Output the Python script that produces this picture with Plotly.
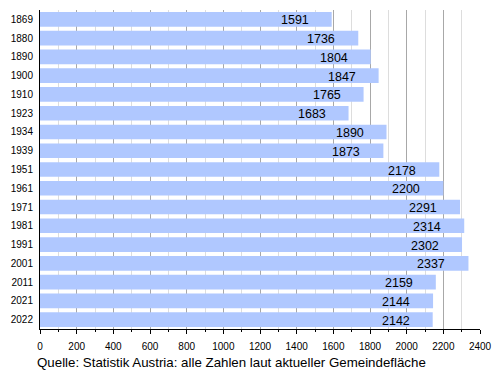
import plotly.graph_objects as go

years = ["1869", "1880", "1890", "1900", "1910", "1923", "1934", "1939", "1951",
         "1961", "1971", "1981", "1991", "2001", "2011", "2021", "2022"]
population = [1591, 1736, 1804, 1847, 1765, 1683, 1890, 1873, 2178,
              2200, 2291, 2314, 2302, 2337, 2159, 2144, 2142]
x_ticks = list(range(0, 2401, 200))
caption = "Quelle: Statistik Austria: alle Zahlen laut aktueller Gemeindefläche"

FONT = "Liberation Sans, Arial, sans-serif"
positions = list(range(len(years)))

fig = go.Figure()
fig.add_trace(go.Bar(
    y=positions, x=population, orientation="h",
    marker=dict(color="#b0c8ff", line=dict(width=0)),
    width=0.78, hovertext=years, hoverinfo="x+text",
))

for pos, v in zip(positions, population):
    fig.add_annotation(x=v, y=pos, text=str(v), showarrow=False,
                       xanchor="right", xshift=-21, yshift=-1,
                       font=dict(family=FONT, size=12.5, color="#000"))

fig.add_annotation(xref="paper", yref="paper",
                   x=(35 - 40) / 440, y=-(363 - 329) / 319, text=caption,
                   showarrow=False, xanchor="left", yanchor="middle",
                   font=dict(family=FONT, size=13.3, color="#000"))

fig.update_layout(
    width=500, height=370,
    margin=dict(l=40, r=20, t=10, b=41, autoexpand=False),
    plot_bgcolor="white", paper_bgcolor="white",
    showlegend=False,
    font=dict(family=FONT, size=10, color="#000"),
    xaxis=dict(range=[0, 2400], tickvals=x_ticks, ticktext=[str(t) for t in x_ticks],
               showgrid=True, gridcolor="#a8a8a8", gridwidth=1,
               ticks="outside", ticklen=4, tickcolor="#000",
               ticklabelstandoff=4,
               showline=True, linecolor="#000", linewidth=1,
               minor=dict(dtick=100, showgrid=True, gridcolor="#dddddd",
                          ticks="outside", ticklen=2, tickcolor="#000"),
               tickfont=dict(size=10), zeroline=False, fixedrange=True,
               automargin=False),
    yaxis=dict(range=[len(years) - 0.5, -0.5], tickvals=positions, ticktext=years,
               showline=True, linecolor="#000", linewidth=1,
               ticks="outside", ticklen=4, tickcolor="rgba(0,0,0,0)",
               tickfont=dict(size=10), showgrid=False, zeroline=False,
               fixedrange=True, automargin=False),
)

fig.write_html("out.html", config={"displayModeBar": False},
               post_script="document.body.style.margin='0';")
